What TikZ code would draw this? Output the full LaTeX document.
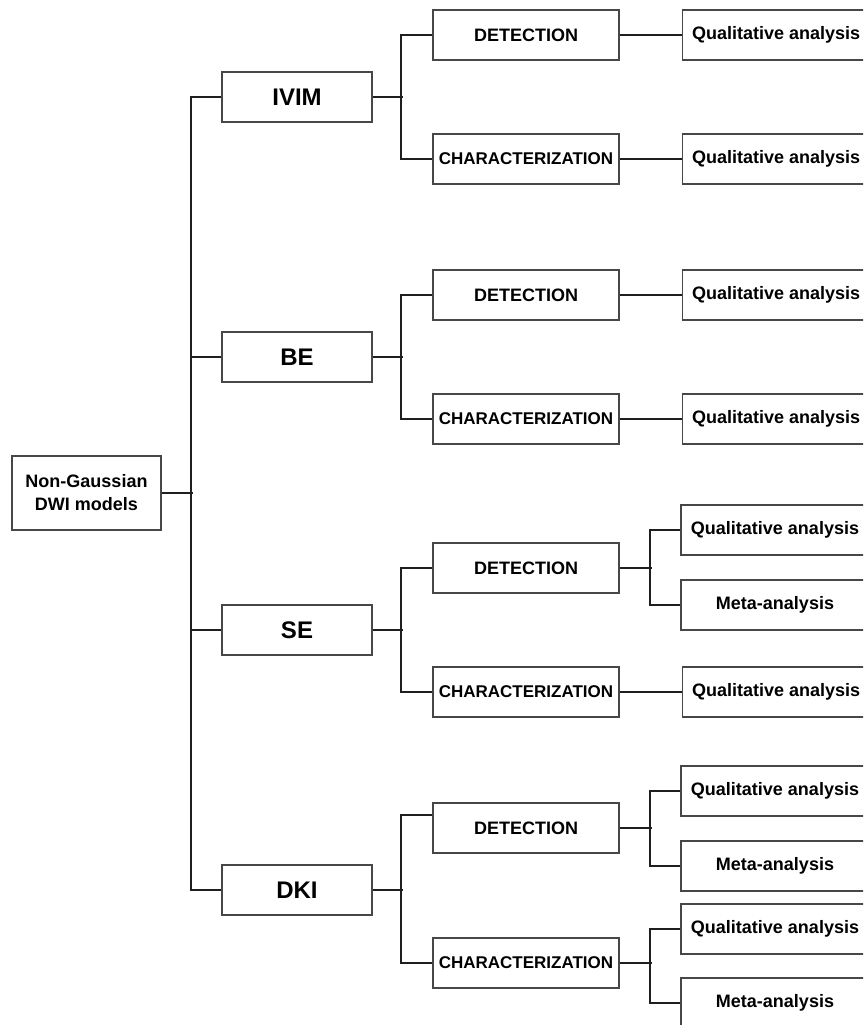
\documentclass[tikz,border=0pt]{standalone}
\usepackage{fontspec}
\setmainfont{Liberation Sans}
\usetikzlibrary{positioning}

\begin{document}
\begin{tikzpicture}[x=1pt, y=-1pt, node distance={62pt},
    box/.style = {draw=black!72, line width=1.2pt, fill=white, font=\bfseries\fontsize{18}{23}\selectfont, inner sep=0pt},
    model/.style = {box, minimum width=150pt, minimum height=50pt, font=\bfseries\fontsize{24}{28}\selectfont},
    task/.style = {box, minimum width=186pt, minimum height=50pt},
    study/.style = {box, minimum width=188pt, minimum height=50pt},
    link/.style = {draw=black!88, line width=1.9pt}]
    \clip (0,0) rectangle (863,1025);
    \fill[white] (0,0) rectangle (863,1025);
    % root and models
    \node[box, minimum width=149pt, minimum height=74pt, align=center] (root) at (86.5,493) {Non-Gaussian\\DWI models};
    \node[model] (ivim) at (297,97) {IVIM};
    \node[model] (be) at (297,357) {BE};
    \node[model] (se) at (297,630) {SE};
    \node[model] (dki) at (297,890) {DKI};
    % detection / characterization
    \node[task] (ivimdet) at (526,35) {DETECTION};
    \node[task, font=\bfseries\fontsize{17}{20}\selectfont] (ivimchar) at (526,159) {CHARACTERIZATION};
    \node[task] (bedet) at (526,295) {DETECTION};
    \node[task, font=\bfseries\fontsize{17}{20}\selectfont] (bechar) at (526,419) {CHARACTERIZATION};
    \node[task] (sedet) at (526,568) {DETECTION};
    \node[task, font=\bfseries\fontsize{17}{20}\selectfont] (sechar) at (526,692) {CHARACTERIZATION};
    \node[task] (dkidet) at (526,828) {DETECTION};
    \node[task, font=\bfseries\fontsize{17}{20}\selectfont] (dkichar) at (526,963) {CHARACTERIZATION};
    % studies
    \node[study] (ivimqa) [right=of ivimdet] {Qualitative analysis};
    \node[study] (ivimqb) [right=of ivimchar] {Qualitative analysis};
    \node[study] (beqa) [right=of bedet] {Qualitative analysis};
    \node[study] (beqb) [right=of bechar] {Qualitative analysis};
    \node[study] (seqa) at (775,530) {Qualitative analysis};
    \node[study] (sema) at (775,605) {Meta-analysis};
    \node[study] (seqb) [right=of sechar] {Qualitative analysis};
    \node[study] (dkiqa) at (775,791) {Qualitative analysis};
    \node[study] (dkima) at (775,866) {Meta-analysis};
    \node[study] (dkiqb) at (775,929) {Qualitative analysis};
    \node[study] (dkimb) at (775,1003) {Meta-analysis};
    % trunk
    \draw[link] (root.east) -- ++(31,0);
    \draw[link] (ivim.west) -- ++(-30,0) |- (dki.west);
    \draw[link] (be.west) -- ++(-30,0);
    \draw[link] (se.west) -- ++(-30,0);
    % model branches
    \draw[link] (ivim.east) -- ++(30,0);
    \draw[link] (ivimdet.west) -- ++(-31,0) |- (ivimchar.west);
    \draw[link] (be.east) -- ++(30,0);
    \draw[link] (bedet.west) -- ++(-31,0) |- (bechar.west);
    \draw[link] (se.east) -- ++(30,0);
    \draw[link] (sedet.west) -- ++(-31,0) |- (sechar.west);
    \draw[link] (dki.east) -- ++(30,0);
    \draw[link] ([yshift=13pt]dkidet.west) -- ++(-31,0) |- (dkichar.west);
    % study branches
    \draw[link] (ivimdet) -- (ivimqa);
    \draw[link] (ivimchar) -- (ivimqb);
    \draw[link] (bedet) -- (beqa);
    \draw[link] (bechar) -- (beqb);
    \draw[link] (sedet.east) -- ++(32,0);
    \draw[link] (seqa.west) -- ++(-30,0) |- (sema.west);
    \draw[link] (sechar) -- (seqb);
    \draw[link] (dkidet.east) -- ++(32,0);
    \draw[link] (dkiqa.west) -- ++(-30,0) |- (dkima.west);
    \draw[link] (dkichar.east) -- ++(32,0);
    \draw[link] (dkiqb.west) -- ++(-30,0) |- (dkimb.west);
\end{tikzpicture}
\end{document}
